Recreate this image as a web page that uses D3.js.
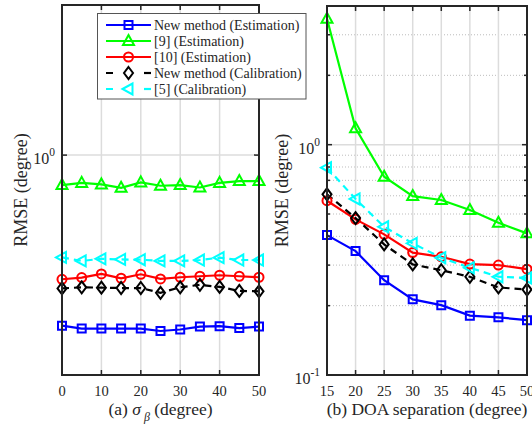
<!DOCTYPE html>
<html><head><meta charset="utf-8">
<script src="https://cdn.jsdelivr.net/npm/d3@7/dist/d3.min.js"></script>
<style>body{margin:0;background:#fff}</style>
</head><body><svg id="c" width="532" height="426" font-family="'Liberation Serif','DejaVu Serif',serif"></svg>
<script>
// ---- data ----
const sigmaDeg = [0,5,10,15,20,25,30,35,40,45,50];
const sepDeg = [15,20,25,30,35,40,45,50];
const sigmaTicks = [0,10,20,30,40,50];
const sepTicks = [15,20,25,30,35,40,45,50];

const aNewEst  = [0.287,0.281,0.281,0.281,0.281,0.276,0.279,0.285,0.286,0.282,0.285];
const a9Est    = [0.803,0.816,0.807,0.787,0.819,0.799,0.803,0.789,0.816,0.827,0.827];
const a10Est   = [0.403,0.408,0.419,0.406,0.418,0.404,0.409,0.412,0.415,0.412,0.409];
const aNewCal  = [0.377,0.380,0.379,0.378,0.378,0.365,0.380,0.387,0.381,0.370,0.369];
const a5Cal    = [0.473,0.461,0.468,0.466,0.465,0.461,0.461,0.464,0.472,0.464,0.464];

const bNewEst  = [0.405,0.345,0.258,0.213,0.201,0.181,0.178,0.173];
const b9Est    = [3.52,1.178,0.726,0.598,0.575,0.520,0.458,0.412];
const b10Est   = [0.571,0.474,0.408,0.340,0.326,0.303,0.300,0.288];
const bNewCal  = [0.609,0.480,0.369,0.302,0.285,0.267,0.240,0.235];
const b5Cal    = [0.794,0.581,0.440,0.373,0.323,0.292,0.267,0.264];

const seriesNames = ["New method (Estimation)","[9] (Estimation)","[10] (Estimation)","New method (Calibration)","[5] (Calibration)"];
const seriesColors = ["#0000ff","#00ff00","#ff0000","#000000","#00ffff"];
const seriesMarkers = ["square","triUp","circle","diamond","triLeft"];
const seriesDash = [null,null,null,"7,5","7,5"];

// ---- drawing ----
const svg = d3.select("#c");
const BOX = "#262626";
const TXT = "#262626";

function markerPath(type){
  switch(type){
    case "square": return "M-4,-4H4V4H-4Z";
    case "triUp": return "M0,-6L5.5,4L-5.5,4Z";
    case "triLeft": return "M-6,0L4,-5.5L4,5.5Z";
    case "diamond": return "M0,-6L4.5,0L0,6L-4.5,0Z";
    case "circle": return d3.symbol(d3.symbolCircle, 64)();
  }
}

function panel(cfg){
  const g = svg.append("g");
  const x = d3.scaleLinear().domain(cfg.xDomain).range([cfg.x0,cfg.x1]);
  const y = d3.scaleLog().domain(cfg.yDomain).range([cfg.y1,cfg.y0]);
  if(cfg.minor){
    cfg.minor.forEach(v=>{
      g.append("line").attr("x1",cfg.x0).attr("x2",cfg.x1).attr("y1",y(v)).attr("y2",y(v))
        .attr("stroke","#bdbdbd").attr("stroke-width",1).attr("stroke-dasharray","1,2");
    });
  }
  cfg.xTicks.forEach(v=>{
    g.append("line").attr("x1",x(v)).attr("x2",x(v)).attr("y1",cfg.y0).attr("y2",cfg.y1)
      .attr("stroke","#dcdcdc").attr("stroke-width",1.5);
  });
  cfg.yMajor.forEach(v=>{
    g.append("line").attr("x1",cfg.x0).attr("x2",cfg.x1).attr("y1",y(v)).attr("y2",y(v))
      .attr("stroke","#dcdcdc").attr("stroke-width",1.5);
  });
  cfg.series.forEach((s,i)=>{
    const line = d3.line().x((d,j)=>x(cfg.xs[j])).y(d=>y(d));
    g.append("path").attr("d",line(s)).attr("fill","none").attr("stroke",seriesColors[i])
      .attr("stroke-width",2.2).attr("stroke-dasharray",seriesDash[i]);
  });
  cfg.series.forEach((s,i)=>{
    g.selectAll(null).data(s).enter().append("path")
      .attr("d",markerPath(seriesMarkers[i]))
      .attr("transform",(d,j)=>`translate(${x(cfg.xs[j])},${y(d)})`)
      .attr("fill","none").attr("stroke",seriesColors[i]).attr("stroke-width",2);
  });
  g.append("rect").attr("x",cfg.x0).attr("y",cfg.y0).attr("width",cfg.x1-cfg.x0).attr("height",cfg.y1-cfg.y0)
    .attr("fill","none").attr("stroke",BOX).attr("stroke-width",2);
  cfg.xTicks.forEach(v=>{
    g.append("line").attr("x1",x(v)).attr("x2",x(v)).attr("y1",cfg.y1).attr("y2",cfg.y1-5).attr("stroke",BOX).attr("stroke-width",1.5);
    g.append("line").attr("x1",x(v)).attr("x2",x(v)).attr("y1",cfg.y0).attr("y2",cfg.y0+5).attr("stroke",BOX).attr("stroke-width",1.5);
    g.append("text").attr("x",x(v)).attr("y",cfg.y1+21).attr("text-anchor","middle")
      .attr("font-size",14.5).attr("fill",TXT).text(v);
  });
  const yt = cfg.yMajor.concat(cfg.minor||[]);
  yt.forEach(v=>{
    const len = cfg.yMajor.includes(v)?5:3;
    g.append("line").attr("x1",cfg.x0).attr("x2",cfg.x0+len).attr("y1",y(v)).attr("y2",y(v)).attr("stroke",BOX).attr("stroke-width",1.5);
    g.append("line").attr("x1",cfg.x1).attr("x2",cfg.x1-len).attr("y1",y(v)).attr("y2",y(v)).attr("stroke",BOX).attr("stroke-width",1.5);
  });
  cfg.yLabels.forEach(v=>{
    const t = g.append("text").attr("x",cfg.x0-7).attr("y",y(v)+9).attr("text-anchor","end").attr("font-size",16).attr("fill",TXT);
    t.append("tspan").text("10");
    t.append("tspan").attr("dy",-8).attr("font-size",11.5).text(Math.round(Math.log10(v)));
  });
  g.append("text").attr("transform",`translate(${cfg.ylabX},${(cfg.y0+cfg.y1)/2}) rotate(-90)`)
    .attr("text-anchor","middle").attr("font-size",18).attr("fill",TXT).text("RMSE (degree)");
  const xl = g.append("text").attr("x",(cfg.x0+cfg.x1)/2).attr("y",cfg.y1+40).attr("text-anchor","middle").attr("font-size",17.5).attr("fill",TXT);
  cfg.xlabel(xl);
  return {x,y};
}

panel({x0:62,x1:259,y0:5,y1:375,xDomain:[0,50],yDomain:[0.2,3],xs:sigmaDeg,xTicks:sigmaTicks,
  yMajor:[1],yLabels:[1],minor:null,ylabX:27,
  series:[aNewEst,a9Est,a10Est,aNewCal,a5Cal],
  xlabel:t=>{t.append("tspan").text("(a) ");t.append("tspan").attr("font-style","italic").text("σ");
    t.append("tspan").attr("font-style","italic").attr("font-size",12).attr("dy",6).text(" β");
    t.append("tspan").attr("dy",-6).text(" (degree)");}
});
panel({x0:327,x1:527,y0:6,y1:375,xDomain:[15,50],yDomain:[0.1,4],xs:sepDeg,xTicks:sepTicks,
  yMajor:[0.1,1],yLabels:[0.1,1],minor:[0.2,0.3,0.4,0.5,0.6,0.7,0.8,0.9,2,3],ylabX:288,
  series:[bNewEst,b9Est,b10Est,bNewCal,b5Cal],
  xlabel:t=>{t.text("(b) DOA separation (degree)");}
});

const lg = svg.append("g");
lg.append("rect").attr("x",97.5).attr("y",13.5).attr("width",208.5).attr("height",85.5)
  .attr("fill","#fff").attr("stroke","#555").attr("stroke-width",1);
seriesNames.forEach((n,i)=>{
  const yy = 25 + i*16;
  lg.append("line").attr("x1",106).attr("x2",151).attr("y1",yy).attr("y2",yy)
    .attr("stroke",seriesColors[i]).attr("stroke-width",2.2).attr("stroke-dasharray",seriesDash[i]?"7,12,0,100":null);
  lg.append("line").attr("x1",144).attr("x2",151).attr("y1",yy).attr("y2",yy)
    .attr("stroke",seriesDash[i]?seriesColors[i]:"none").attr("stroke-width",2.2);
  lg.append("path").attr("d",markerPath(seriesMarkers[i])).attr("transform",`translate(128.5,${yy})`)
    .attr("fill","none").attr("stroke",seriesColors[i]).attr("stroke-width",2);
  lg.append("text").attr("x",154).attr("y",yy+4.5).attr("font-size",14).attr("fill",TXT).text(n);
});
</script></body></html>
